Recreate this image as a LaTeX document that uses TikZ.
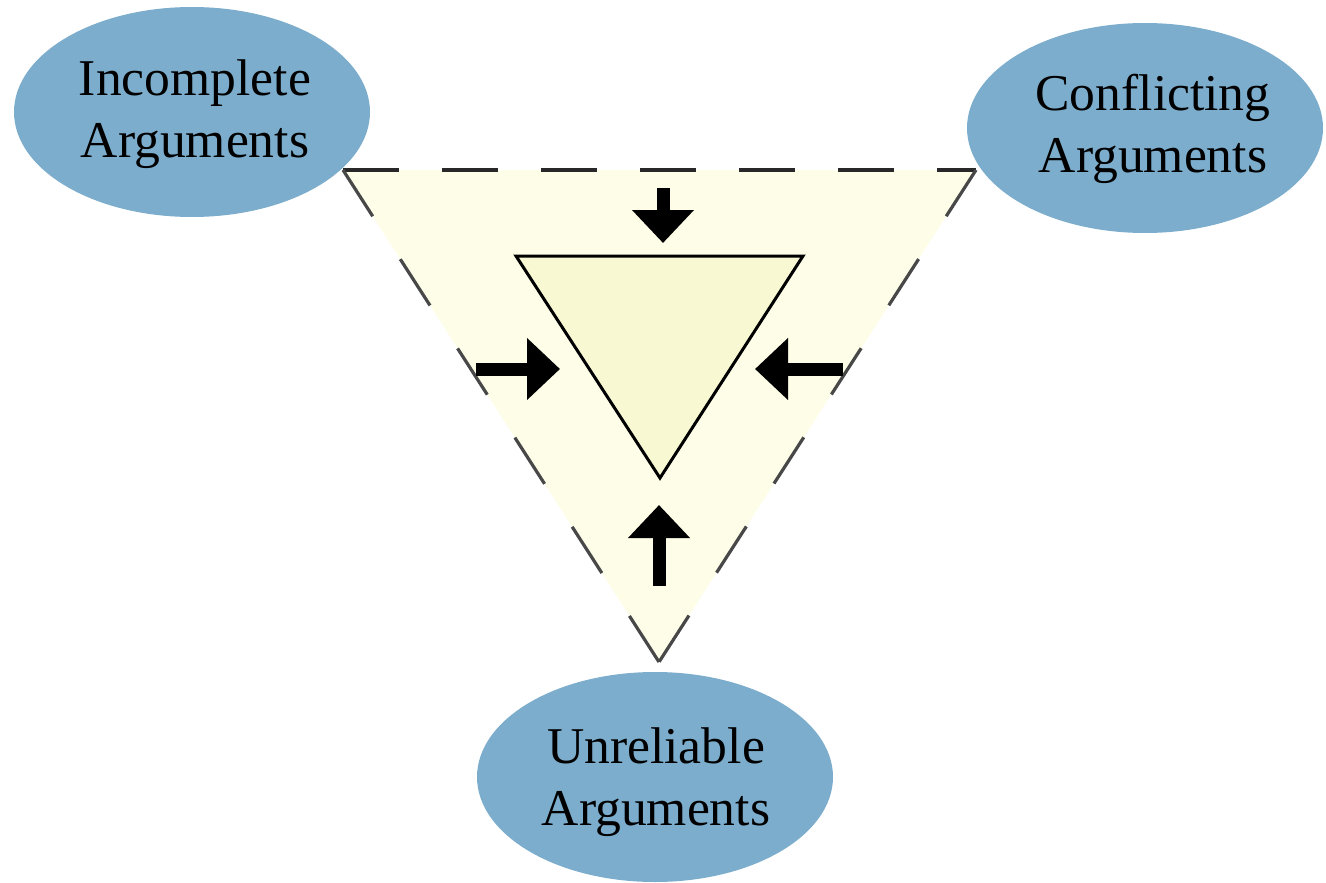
\documentclass[tikz,border=0pt]{standalone}
\usepackage{fontspec}
\setmainfont{Liberation Serif}
\usetikzlibrary{arrows.meta,shapes.geometric}
\definecolor{bubbleblue}{RGB}{124,173,204}
\definecolor{outerfill}{RGB}{253,253,232}
\definecolor{innerfill}{RGB}{248,249,211}
\definecolor{rimgray}{RGB}{40,40,40}
\begin{document}
\begin{tikzpicture}[x=1pt,y=-1pt,
  bubble/.style={ellipse, fill=bubbleblue, minimum width=356pt, minimum height=210pt, inner sep=0pt},
  caption/.style={align=center, font=\fontsize{51.6}{62}\selectfont, inner sep=0pt},
  push/.style={line width=13pt, -{Triangle[length=33pt,width=60pt]}},
  rim/.style={draw=rimgray, line width=3.5pt, dash pattern=on 56pt off 43pt},
  siderim/.style={draw=rimgray!85, line width=3.2pt, dash pattern=on 55pt off 51pt}]
  \useasboundingbox (0,0) rectangle (1326,883);

  % three argument bubbles
  \node[bubble] (inc) at (192,112) {};
  \node[bubble] (cfl) at (1145,128) {};
  \node[bubble] (unr) at (655,777) {};
  \node[caption] (inc-t) at (195,114) {Incomplete\\Arguments};
  \node[caption] (cfl-t) at (1153,129) {Conflicting\\Arguments};
  \node[caption] (unr-t) at (656,782) {Unreliable\\Arguments};

  % outer dashed triangle
  \coordinate (o1) at (343,170);
  \coordinate (o2) at (976,170);
  \coordinate (o3) at (659,662);
  \fill[outerfill] (o1) -- (o2) -- (o3) -- cycle;
  \draw[rim] (o1) -- (o2);
  \draw[siderim] (o2) -- (o3);
  \draw[siderim] (o1) -- (o3);

  % inner solid triangle
  \coordinate (i1) at (516,256);
  \coordinate (i2) at (803,256);
  \coordinate (i3) at (660,478);
  \draw[fill=innerfill, line width=3pt] (i1) -- (i2) -- (i3) -- cycle;

  % inward pressure arrows
  \coordinate (ta) at (663,188);  \coordinate (tb) at (663,243);
  \coordinate (la) at (476,369);  \coordinate (lb) at (560,369);
  \coordinate (ra) at (843,369);  \coordinate (rb) at (755,369);
  \coordinate (ba) at (659,586);  \coordinate (bb) at (659,505);
  \draw[push] (ta) -- (tb);
  \draw[push] (la) -- (lb);
  \draw[push] (ra) -- (rb);
  \draw[push] (ba) -- (bb);
\end{tikzpicture}
\end{document}
